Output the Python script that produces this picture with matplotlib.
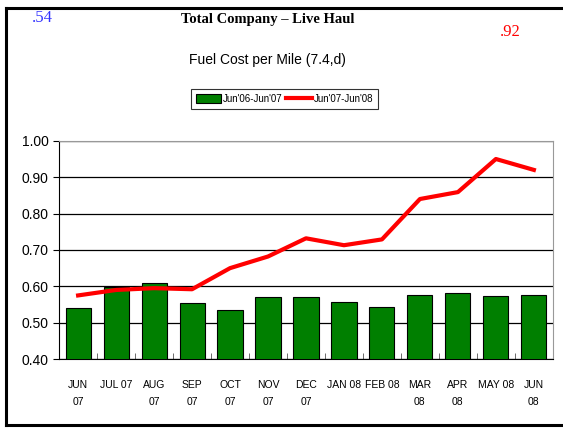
import matplotlib
matplotlib.use("Agg")
from matplotlib import pyplot as plt
from matplotlib.lines import Line2D
import numpy as np

months = ['JUN\n07', 'JUL 07', 'AUG\n07', 'SEP\n07', 'OCT\n07', 'NOV\n07', 'DEC\n07',
          'JAN 08', 'FEB 08', 'MAR\n08', 'APR\n08', 'MAY 08', 'JUN\n08']
prev_year = [0.54, 0.598, 0.61, 0.553, 0.534, 0.57, 0.57, 0.557, 0.543, 0.576, 0.583, 0.573, 0.576]
this_year = [0.575, 0.59, 0.595, 0.592, 0.65, 0.682, 0.732, 0.713, 0.729, 0.84, 0.859, 0.95, 0.92]
y_ticks = [0.40, 0.50, 0.60, 0.70, 0.80, 0.90, 1.00]

sans = ['Liberation Sans', 'DejaVu Sans']
serif = ['Liberation Serif', 'DejaVu Serif']

fig = plt.figure(figsize=(5.63, 4.28), dpi=100)
ax = fig.add_axes([0.105, 0.161, 0.877, 0.51])

x = np.arange(len(months))
bars = ax.bar(x, prev_year, width=0.66, color='#007f00', edgecolor='black', linewidth=0.8,
              label="Jun'06-Jun'07", zorder=3)
line, = ax.plot(x, this_year, color='#ff0000', linewidth=3, label="Jun'07-Jun'08", zorder=4)

ax.set_ylim(0.40, 1.00)
ax.set_xlim(-0.5, len(months) - 0.5)
ax.set_yticks(y_ticks)
ax.set_yticklabels(['%.2f' % v for v in y_ticks], family=sans, fontsize=10)
ax.yaxis.grid(True, color='black', linewidth=0.9, zorder=0)
ax.set_axisbelow(True)

ax.set_xticks(x)
ax.set_xticklabels(months, family=sans, fontsize=7.5, linespacing=1.85)
ax.tick_params(axis='x', length=0, pad=15)
ax.set_xticks(np.arange(-0.5, len(months), 1), minor=True)
ax.tick_params(axis='x', which='minor', direction='in', length=4, color='#555555')
ax.tick_params(axis='y', direction='out', length=4)

for s in ['top', 'right']:
    ax.spines[s].set_color('#999999')

fig.text(0.475, 0.955, 'Total Company \u2013 Live Haul', family=serif, fontweight='bold',
         fontsize=10.5, ha='center', va='center')
fig.text(0.475, 0.86, 'Fuel Cost per Mile (7.4,d)', family=sans, fontsize=10,
         ha='center', va='center')
fig.text(0.075, 0.957, '.54', family=serif, fontsize=12, color='#3333ff',
         ha='center', va='center')
fig.text(0.907, 0.925, '.92', family=serif, fontsize=12, color='#ff0000',
         ha='center', va='center')

leg = fig.legend([bars, line], ["Jun'06-Jun'07", "Jun'07-Jun'08"], loc='center',
                 bbox_to_anchor=(0.505, 0.769), ncol=2, frameon=True,
                 fancybox=False, edgecolor='black', prop={'family': sans, 'size': 7},
                 handlelength=2.6, handleheight=0.9, handletextpad=0.2, columnspacing=0.4,
                 borderpad=0.5)
leg.get_frame().set_linewidth(0.8)

# page border
fig.add_artist(Line2D([0.011, 0.011], [0.006, 0.982], color='black', linewidth=2.2,
                      transform=fig.transFigure))
fig.add_artist(Line2D([0.011, 1.0], [0.982, 0.982], color='black', linewidth=2.2,
                      transform=fig.transFigure))
fig.add_artist(Line2D([0.011, 1.0], [0.006, 0.006], color='black', linewidth=2.2,
                      transform=fig.transFigure))

fig.savefig('out.png', dpi=100)
